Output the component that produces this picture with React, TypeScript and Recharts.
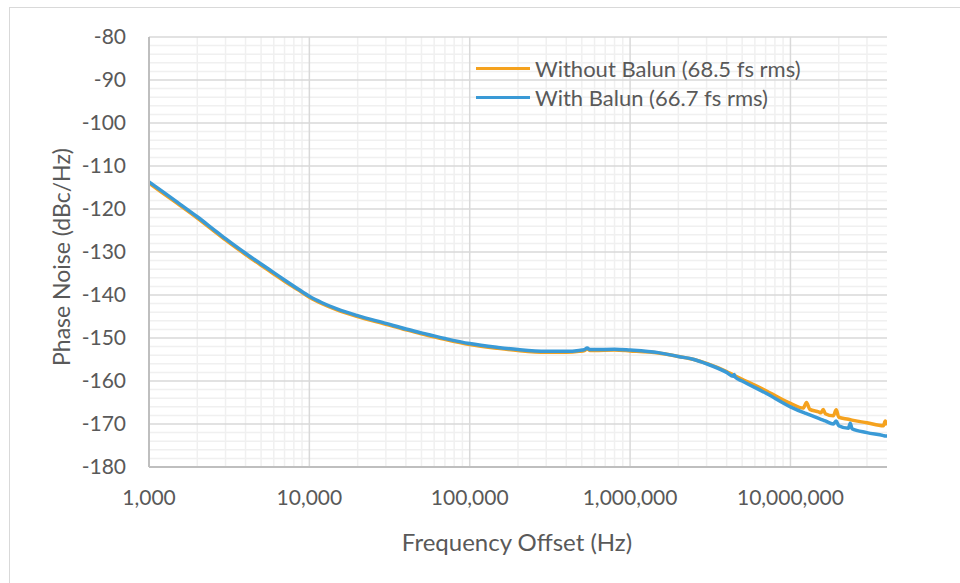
import React from "react";
import { LineChart, Line, XAxis, YAxis, CartesianGrid, Legend } from "recharts";

const freqs = [
  1000, 1200, 1500, 2000, 2500, 3000, 4000, 5000, 6000, 7000,
  8500, 10000, 12000, 15000, 20000, 30000, 40000, 50000, 70000, 100000,
  150000, 200000, 300000, 400000, 480000, 520000, 540000, 560000, 600000, 800000,
  1000000, 1500000, 2000000, 2500000, 3000000, 4000000, 4400000, 4460000, 4520000, 5000000, 7000000,
  10000000, 12000000, 12600000, 13200000, 15000000, 15500000, 16000000, 16500000, 18500000, 19300000,
  20000000, 23000000, 23600000, 24200000, 30000000, 38000000, 39000000, 40000000,
];

const withoutBalun = [
  -114.0, -116.1, -118.7, -122.1, -124.9, -127.2, -130.6, -133.1, -135.1, -136.8,
  -138.8, -140.5, -142.0, -143.5, -145.0, -146.8, -148.1, -149.0, -150.3, -151.5,
  -152.4, -152.9, -153.3, -153.3, -153.1, -152.9, -152.5, -152.9, -152.9, -152.8,
  -153.0, -153.5, -154.3, -155.0, -155.9, -157.8, -158.6, -158.7, -158.8, -159.6, -162.2,
  -165.2, -166.3, -165.0, -166.6, -167.2, -167.4, -166.6, -167.6, -168.1, -166.7,
  -168.4, -168.9, -169.0, -169.1, -169.7, -170.4, -169.3, -170.3,
];

const withBalun = [
  -113.7, -115.8, -118.4, -121.8, -124.6, -126.9, -130.3, -132.8, -134.8, -136.5,
  -138.6, -140.3, -141.8, -143.3, -144.8, -146.6, -147.9, -148.8, -150.1, -151.3,
  -152.2, -152.7, -153.1, -153.1, -152.9, -152.7, -152.3, -152.7, -152.7, -152.6,
  -152.8, -153.4, -154.3, -155.0, -156.0, -158.0, -158.9, -158.5, -159.1, -160.0, -162.8,
  -166.0, -167.3, -167.6, -167.9, -168.7, -168.9, -169.1, -169.3, -170.0, -169.3,
  -170.4, -171.0, -169.8, -171.1, -172.0, -172.7, -172.8, -172.8,
];

const xTicks = [1000, 10000, 100000, 1000000, 10000000];
const xMinor = [
  2000, 3000, 4000, 5000, 6000, 7000, 8000, 9000,
  20000, 30000, 40000, 50000, 60000, 70000, 80000, 90000,
  200000, 300000, 400000, 500000, 600000, 700000, 800000, 900000,
  2000000, 3000000, 4000000, 5000000, 6000000, 7000000, 8000000, 9000000,
  20000000, 30000000,
];
const yTicks = [-180, -170, -160, -150, -140, -130, -120, -110, -100, -90, -80];
const yMinor = [
  -178, -176, -174, -172, -168, -166, -164, -162, -158, -156, -154, -152,
  -148, -146, -144, -142, -138, -136, -134, -132, -128, -126, -124, -122,
  -118, -116, -114, -112, -108, -106, -104, -102, -98, -96, -94, -92,
  -88, -86, -84, -82,
];

const seriesNames = ["Without Balun (68.5 fs rms)", "With Balun (66.7 fs rms)"];
const seriesColors = ["#F5A21E", "#3A9AD6"];

const data = freqs.map((f, i) => ({ f, without: withoutBalun[i], with: withBalun[i] }));

const FONT = "Lato, 'Open Sans', sans-serif";
const TEXT = "#595959";

const LegendContent = () => (
  <div style={{ fontFamily: FONT, fontSize: 22, color: TEXT }}>
    {seriesNames.map((n, i) => (
      <div key={n} style={{ display: "flex", alignItems: "center", height: 29 }}>
        <div style={{ width: 54, height: 3, background: seriesColors[i], marginRight: 5 }} />
        <span>{n}</span>
      </div>
    ))}
  </div>
);

export default function App() {
  return (
    <div style={{ position: "absolute", left: 0, top: 0, width: 960, height: 583, overflow: "hidden", background: "#fff" }}>
      <div style={{ position: "absolute", left: 9, top: 7, width: 1000, height: 700, border: "1px solid #d9d9d9" }} />
      <div style={{ position: "absolute", left: 0, top: 0 }}>
        <LineChart width={960} height={583} data={data} margin={{ top: 37, right: 73, bottom: 0, left: 0 }}>
          <CartesianGrid stroke="#f0f0f0" strokeWidth={1.5} verticalValues={xMinor} horizontalValues={yMinor} />
          <CartesianGrid stroke="#d9d9d9" strokeWidth={1.5} verticalValues={xTicks} horizontalValues={yTicks} />
          <XAxis
            dataKey="f"
            type="number"
            scale="log"
            domain={[1000, 40000000]}
            allowDataOverflow
            ticks={xTicks}
            interval={0}
            height={116}
            tickLine={false}
            tickSize={0}
            tickMargin={23}
            axisLine={{ stroke: "#bfbfbf", strokeWidth: 2 }}
            tick={{ fill: TEXT, fontSize: 21, fontFamily: FONT }}
            tickFormatter={(v) => Number(v).toLocaleString("en-US")}
            label={{
              content: () => (
                <text x={517} y={541} textAnchor="middle" dominantBaseline="central" fill={TEXT} fontSize={24} fontFamily={FONT}>
                  Frequency Offset (Hz)
                </text>
              ),
            }}
          />
          <YAxis
            type="number"
            domain={[-180, -80]}
            ticks={yTicks}
            interval={0}
            width={149}
            tickLine={false}
            tickSize={0}
            tickMargin={23}
            axisLine={{ stroke: "#bfbfbf", strokeWidth: 2 }}
            tick={{ fill: TEXT, fontSize: 21, fontFamily: FONT }}
            label={{
              content: () => (
                <text x={61} y={257} transform="rotate(-90 61 257)" textAnchor="middle" dominantBaseline="central" fill={TEXT} fontSize={23} fontFamily={FONT}>
                  Phase Noise (dBc/Hz)
                </text>
              ),
            }}
          />
          <Legend
            layout="vertical"
            align="center"
            verticalAlign="middle"
            content={<LegendContent />}
            wrapperStyle={{ position: "absolute", left: 476, top: 54, width: "auto" }}
          />
          <Line type="monotone" dataKey="without" name={seriesNames[0]} stroke={seriesColors[0]} strokeWidth={3.5} dot={false} isAnimationActive={false} />
          <Line type="monotone" dataKey="with" name={seriesNames[1]} stroke={seriesColors[1]} strokeWidth={3.5} dot={false} isAnimationActive={false} />
        </LineChart>
      </div>
    </div>
  );
}
